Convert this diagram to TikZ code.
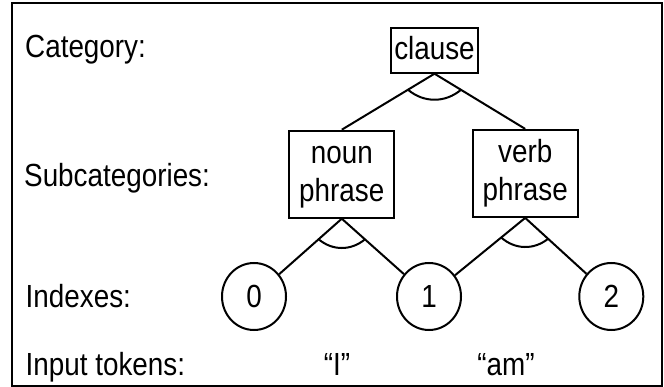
\documentclass[tikz,border=0pt]{standalone}
\usepackage{fontspec}
\setmainfont{Liberation Sans}[FakeStretch=0.87]
\usetikzlibrary{shapes.geometric,calc}
\tikzset{
  lbl/.style={anchor=base west,inner sep=0pt,font=\fontsize{32}{38.4}\selectfont},
  tok/.style={anchor=base,inner sep=0pt,font=\fontsize{32}{38.4}\selectfont},
  catbox/.style={draw,line width=2pt,inner sep=0pt,align=center,
    font=\fontsize{32}{38.4}\selectfont},
  idx/.style={draw,ellipse,line width=2pt,inner sep=0pt,minimum width=64pt,
    minimum height=67pt,font=\fontsize{32}{38.4}\selectfont},
  conn/.style={line width=2pt},
}
\begin{document}
\begin{tikzpicture}[x=1pt,y=1pt]
\useasboundingbox (0,0) rectangle (664,-387);
\draw[line width=2pt] (11.7,-2.7) rectangle (661.7,-386);
% labels
\node[lbl] (lcat) at (25,-57.3) {Category:};
\node[lbl] (lsub) at (24,-186.7) {Subcategories:};
\node[lbl] (lidx) at (25.5,-307.5) {Indexes:};
\node[lbl] (ltok) at (25.5,-375) {Input tokens:};
% tree
\node[catbox,minimum width=87.6pt,minimum height=44.4pt,text height=22pt,text depth=3pt] (clause) at (434.5,-50.5) {clause};
\node[catbox,minimum width=105pt,minimum height=87pt,text height=61.4pt,text depth=6.4pt] (noun) at (341.8,-174.2) {noun\\phrase};
\node[catbox,minimum width=105pt,minimum height=87pt,text height=61.4pt,text depth=6.4pt] (verb) at (525.2,-173.4) {verb\\phrase};
\node[idx] (c0) at (254,-296.5) {0};
\node[idx] (c1) at (429,-296.5) {1};
\node[idx] (c2) at (611.3,-296.5) {2};
\node[tok] (t0) at (337,-375) {“I”};
\node[tok] (t1) at (506,-375) {“am”};
% connectors
\draw[conn] (clause.south) -- (noun.north);
\draw[conn] (clause.south) -- (verb.north);
\draw[conn] (noun.south) -- (c0);
\draw[conn] (noun.south) -- (c1);
\draw[conn] (verb.south) -- (c1);
\draw[conn] (verb.south) -- (c2);
% arcs
\draw[conn] ($(clause.south)!31pt!(noun.north)$) to[bend right=40] ($(clause.south)!31pt!(verb.north)$);
\draw[conn] ($(noun.south)!31pt!(c0)$) to[bend right=40] ($(noun.south)!31pt!(c1)$);
\draw[conn] ($(verb.south)!31pt!(c1)$) to[bend right=40] ($(verb.south)!31pt!(c2)$);
\end{tikzpicture}
\end{document}
